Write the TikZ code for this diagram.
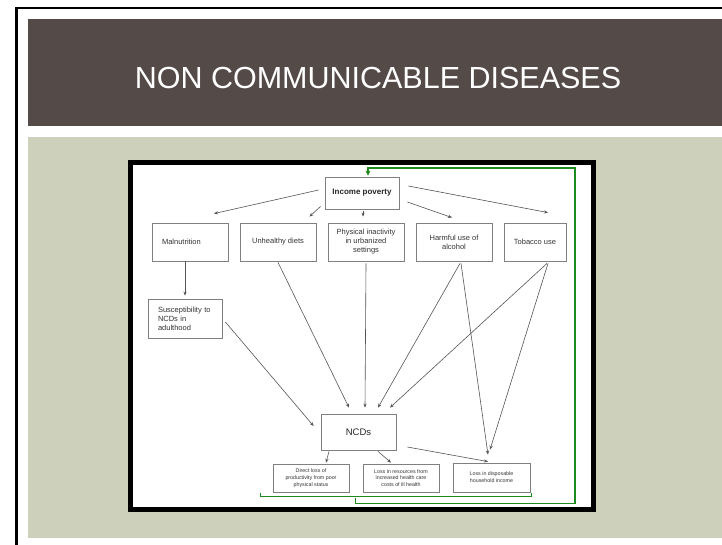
\documentclass[tikz,border=0pt]{standalone}
\usepackage{fontspec}
\setmainfont{Liberation Sans}
\usetikzlibrary{arrows.meta,calc}
\definecolor{titlebg}{HTML}{544A48}
\definecolor{panelbg}{HTML}{CDD1BC}
\definecolor{fbgreen}{HTML}{1E8A1E}
\definecolor{boxline}{HTML}{808080}
\definecolor{arrline}{HTML}{555555}
\definecolor{boxtext}{HTML}{333333}
\begin{document}
\begin{tikzpicture}[x=1pt,y=-1pt,
  box/.style={draw=boxline, line width=0.8pt, fill=white, inner sep=1pt,
    align=center, text=boxtext, font=\fontsize{7.5}{9}\selectfont},
  rowbox/.style={box, minimum width=76pt, minimum height=38pt},
  smallbox/.style={box, minimum width=76pt, minimum height=28pt,
    font=\fontsize{5.3}{6.8}\selectfont},
  arr/.style={draw=arrline, line width=0.6pt, -{Stealth[length=4pt,width=3.2pt]}},
  fb/.style={draw=fbgreen, line width=1.6pt}
]
\useasboundingbox (0,0) rectangle (722,545);
\fill[white] (0,0) rectangle (722,545);
% slide frame
\draw[line width=2.3pt] (16.5,545) -- (16.5,8) -- (722,8);
\fill[titlebg] (28,19) rectangle (722,126);
\fill[panelbg] (28,137) rectangle (722,538);
\node[text=white, font=\fontsize{30.5}{34}\selectfont, anchor=base] (title) at (378,89) {NON COMMUNICABLE DISEASES};
% diagram frame
\draw[line width=5pt, fill=white] (130.5,162.5) rectangle (593.5,509.5);

% nodes
\node[box, minimum width=74pt, minimum height=32pt, font=\bfseries\fontsize{8}{9.5}\selectfont, text=black!85] (ip) at (362,193) {Income poverty};
\node[rowbox] (mal) at (190,242) {\makebox[56pt][l]{Malnutrition}};
\node[rowbox] (unh) at (278,242) {Unhealthy diets};
\node[rowbox] (phy) at (366,242) {Physical inactivity\\in urbanized\\settings};
\node[rowbox] (alc) at (454,242) {Harmful use of\\alcohol};
\node[rowbox, minimum width=62pt] (tob) at (535,242) {Tobacco use};
\node[box, minimum width=74pt, minimum height=39pt, text width=54pt, align=left] (sus) at (185,318.5) {Susceptibility to\\NCDs in\\adulthood};
\node[box, minimum width=75pt, minimum height=36pt, font=\fontsize{9.5}{11}\selectfont, text=black!85] (ncd) at (358.5,432) {NCDs};
\node[smallbox] (dir) at (311,478) {Direct loss of\\productivity from poor\\physical status};
\node[smallbox] (res) at (401,478) {Loss in resources from\\increased health care\\costs of ill health};
\node[smallbox, minimum width=77pt, minimum height=29pt] (dis) at (491.5,477.5) {Loss in disposable\\household income};

% arrows from income poverty
\draw[arr] ($(ip.west)+(-6,-3)$) -- ($(mal.north)+(24,-9)$);
\draw[arr] ($(ip.south west)+(-4,-3)$) -- ($(unh.north east)+(-7,-6)$);
\draw[arr] ($(ip.south)+(1,2)$) -- ($(phy.north)+(-3,-6)$);
\draw[arr] ($(ip.east)+(8,9)$) -- ($(alc.north)+(-2,-5)$);
\draw[arr] ($(ip.east)+(9,-7)$) -- ($(tob.north)+(13,-10)$);
\draw[arr] ($(mal.south)+(-5,0)$) -- ($(sus.north)+(0,-3)$);
% arrows to NCDs
\draw[arr] ($(sus.east)+(3,3.5)$) -- ($(ncd.west)+(-7,-6)$);
\draw[arr] ($(unh.south)+(0,1)$) -- ($(ncd.north)+(-9.5,-6)$);
\draw[arr] ($(phy.south)+(0,2)$) -- ($(ncd.north)+(6.5,-6)$);
\draw[arr] ($(alc.south)+(6,2)$) -- ($(ncd.north)+(19.5,-6)$);
\draw[arr] ($(tob.south)+(12,2)$) -- ($(ncd.north)+(31.5,-6)$);
% arrows to household income
\draw[arr] ($(alc.south)+(7,2)$) -- ($(dis.north)+(-3.5,-8)$);
\draw[arr] ($(tob.south)+(13,2)$) -- ($(dis.north)+(-1.5,-13)$);
\draw[arr] ($(ncd.east)+(11,15)$) -- ($(dis.north)+(-3.5,-1)$);
% arrows from NCDs to consequences
\draw[arr] ($(ncd.south)+(-29.5,1)$) -- ($(dir.north)+(15,-1)$);
\draw[arr] ($(ncd.south)+(19.5,1)$) -- ($(res.north)+(-10,-1)$);

% green feedback
\coordinate (b1s) at ($(dir.south west)+(-12,1)$);
\coordinate (b1e) at ($(dis.south east)+(1,1)$);
\draw[fb] (b1s) -- ++(0,3) -| (b1e);
\coordinate (fbs) at ($(dir.south east)+(6,6)$);
\coordinate (fbc) at (575,168);
\coordinate (fbe) at ($(ip.north)+(6,-1)$);
\draw[fb, -{Stealth[length=5pt,width=5pt]}] (fbs) -- ++(0,5) -| (fbc) -| (fbe);
\end{tikzpicture}
\end{document}
